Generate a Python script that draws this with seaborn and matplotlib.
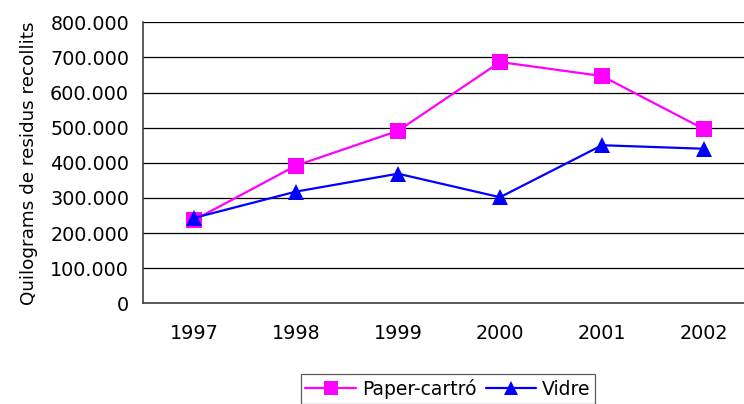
import matplotlib
matplotlib.use("Agg")
import matplotlib.pyplot as plt
import matplotlib.ticker as mticker
import seaborn as sns
import pandas as pd

# dades llegides del gràfic
years = ["1997", "1998", "1999", "2000", "2001", "2002"]
paper = [237000, 392000, 491000, 687000, 647000, 496000]
vidre = [243000, 318000, 369000, 302000, 450000, 440000]
series_names = ["Paper-cartró", "Vidre"]
y_ticks = [0, 100000, 200000, 300000, 400000, 500000, 600000, 700000, 800000]

df = pd.DataFrame({
    "pos": list(range(len(years))) * 2,
    "kg": paper + vidre,
    "serie": [series_names[0]] * len(years) + [series_names[1]] * len(years),
})

sns.set_style("white")
plt.rcParams["font.family"] = ["DejaVu Sans"]
plt.rcParams["text.color"] = "black"
plt.rcParams["xtick.color"] = "black"
plt.rcParams["ytick.color"] = "black"
plt.rcParams["axes.labelcolor"] = "black"

fig = plt.figure(figsize=(7.44, 4.04), dpi=100)
ax = fig.add_axes([143 / 744, (404 - 303.3) / 404, 612 / 744, 281 / 404])

sns.lineplot(data=df, x="pos", y="kg", hue="serie", style="serie",
             palette={"Paper-cartró": "#FF00FF", "Vidre": "#0000FF"},
             markers={"Paper-cartró": "s", "Vidre": "^"},
             dashes=False, markersize=11, linewidth=1.6,
             markeredgewidth=0, ax=ax, legend=False, zorder=3)

ax.set_xlim(-0.5, len(years) - 0.5)
ax.set_ylim(0, 800000)
ax.set_yticks(y_ticks)
ax.yaxis.set_major_formatter(mticker.FuncFormatter(
    lambda v, p: f"{int(v):,}".replace(",", ".")))
ax.grid(axis="y", color="black", linewidth=0.9)
ax.set_axisbelow(True)

# ticks entre categories, etiquetes al centre
ax.set_xticks([i - 0.5 for i in range(len(years) + 1)])
ax.set_xticklabels([])
ax.set_xticks(range(len(years)), minor=True)
ax.set_xticklabels(years, minor=True)
ax.tick_params(axis="x", which="major", length=5, width=1, color="#555555", direction="out")
ax.tick_params(axis="x", which="minor", length=0, pad=15, labelsize=13.8)
ax.tick_params(axis="y", length=5, width=1, color="#555555", direction="out", pad=5, labelsize=13.8)

for s in ["top", "right"]:
    ax.spines[s].set_visible(False)
for s in ["left", "bottom"]:
    ax.spines[s].set_color("#404040")
    ax.spines[s].set_linewidth(1.2)

ax.set_xlabel("")
ax.set_ylabel("Quilograms de residus recollits", fontsize=13.2, labelpad=9)

handles = [
    plt.Line2D([], [], color="#FF00FF", marker="s", markersize=10, linewidth=1.6, markeredgewidth=0),
    plt.Line2D([], [], color="#0000FF", marker="^", markersize=10, linewidth=1.6, markeredgewidth=0),
]
leg = fig.legend(handles, series_names, loc="upper center", bbox_to_anchor=(0.602, 0.097),
                 ncol=2, frameon=True, fancybox=False, edgecolor="#333333",
                 fontsize=13.5, handlelength=2.7, columnspacing=0.5, handletextpad=0.3,
                 borderpad=0.25)
leg.get_frame().set_linewidth(0.9)

fig.savefig("out.png", dpi=100)
